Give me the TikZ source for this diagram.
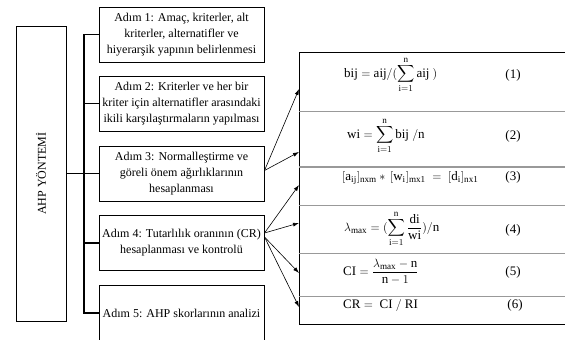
\documentclass[tikz,border=0pt]{standalone}
\usepackage{exscale}
\usepackage{fontspec}
\setmainfont{Liberation Serif}
\usetikzlibrary{arrows.meta}

\tikzset{adim/.style={draw,line width=1pt,minimum width=165pt,minimum height=55pt,align=center,inner sep=1pt,font=\fontsize{12}{16}\selectfont}}
\tikzset{formul/.style={anchor=west,inner sep=0pt,font=\fontsize{13}{15}\selectfont}}
\tikzset{denkno/.style={inner sep=0pt,font=\fontsize{13}{15}\selectfont}}
\tikzset{ok/.style={-{Latex[length=6pt,width=4pt]},line width=0.6pt}}
\tikzset{cizgi/.style={draw=gray!80,line width=1pt}}

\begin{document}
\begin{tikzpicture}[x=1pt,y=-1pt]
\useasboundingbox (0,0) rectangle (565,340);
\node[draw,line width=1pt,minimum width=50pt,minimum height=295pt,inner sep=0pt] (ahp) at (41,173.5) {};
\node[rotate=90,font=\fontsize{12}{14}\selectfont] (ahpyazi) at (ahp.center) {AHP YÖNTEMİ};
\node[adim] (adim1) at (181.5,34.5) {Adım 1: Amaç, kriterler, alt\\kriterler, alternatifler ve\\hiyerarşik yapının belirlenmesi};
\node[adim] (adim2) at (181.5,103.5) {Adım 2: Kriterler ve her bir\\kriter için alternatifler arasındaki\\ikili karşılaştırmaların yapılması};
\node[adim] (adim3) at (181.5,173.5) {Adım 3: Normalleştirme ve\\göreli önem ağırlıklarının\\hesaplanması};
\node[adim] (adim4) at (181.5,243) {Adım 4: Tutarlılık oranının (CR)\\hesaplanması ve kontrolü};
\node[adim,minimum height=56pt] (adim5) at (181.5,313) {Adım 5: AHP skorlarının analizi};
% govde
\coordinate (govde) at (84,0);
\draw[line width=1.2pt] (ahp.east) -- (adim3.west);
\draw[line width=1.2pt] (adim1.west) -- (adim1.west -| govde) |- (adim5.west);
\draw[line width=1.2pt] (adim2.west) -- (adim2.west -| govde);
\draw[line width=1.2pt] (adim4.west) -- (adim4.west -| govde);
% tablo
\draw[line width=1pt] (299,52) -- (565,52);
\draw[line width=1pt] (299,324) -- (565,324);
\draw[line width=1pt] (299,52) -- (299,324);
\draw[cizgi] (299,111) -- (565,111);
\draw[cizgi,line width=1.4pt] (299,167) -- (565,167);
\draw[cizgi] (299,205) -- (565,205);
\draw[cizgi] (299,253) -- (565,253);
\draw[cizgi] (299,296) -- (565,296);
% formuller
\node[formul] (f1) at (344,75) {$\displaystyle\mathrm{bij}=\mathrm{aij}/(\sum_{\mathrm{i}=1}^{\mathrm{n}}\mathrm{aij}\ )$};
\node[formul] (f2) at (347,136) {$\displaystyle\mathrm{wi}=\sum_{\mathrm{i}=1}^{\mathrm{n}}\mathrm{bij}\ /\mathrm{n}$};
\node[formul] (f3) at (342,178) {$[\mathrm{a}_{\mathrm{ij}}]_{\mathrm{nxm}}\ast\,[\mathrm{w}_{\mathrm{i}}]_{\mathrm{mx1}}\;=\;[\mathrm{d}_{\mathrm{i}}]_{\mathrm{nx1}}$};
\node[formul] (f4) at (344,229) {$\displaystyle\lambda_{\mathrm{max}}=(\sum_{\mathrm{i}=1}^{\mathrm{n}}\frac{\mathrm{di}}{\mathrm{wi}})/\mathrm{n}$};
\node[formul] (f5) at (343,272) {$\displaystyle\mathrm{CI}=\frac{\lambda_{\mathrm{max}}-\mathrm{n}}{\mathrm{n}-1}$};
\node[formul] (f6) at (343,305) {$\mathrm{CR}=\ \mathrm{CI}\ /\ \mathrm{RI}$};
\node[denkno] (n1) at (513,75) {(1)};
\node[denkno] (n2) at (513,136) {(2)};
\node[denkno] (n3) at (513,177) {(3)};
\node[denkno] (n4) at (513,230) {(4)};
\node[denkno] (n5) at (513,272) {(5)};
\node[denkno] (n6) at (515,305) {(6)};
% oklar
\coordinate (u1) at (299,89);
\coordinate (u2) at (299,152);
\coordinate (u3) at (299,185);
\coordinate (u4) at (299,223);
\coordinate (u5) at (299,273);
\coordinate (u6) at (299,307);
\draw[ok] ([yshift=3pt]adim3.east) -- (u1);
\draw[ok] ([yshift=3pt]adim3.east) -- (u2);
\draw[ok] ([yshift=10pt]adim4.east) -- (u3);
\draw[ok] ([yshift=10pt]adim4.east) -- (u4);
\draw[ok] ([yshift=6pt]adim4.east) -- (u5);
\draw[ok] ([yshift=6pt]adim4.east) -- (u6);
\end{tikzpicture}
\end{document}
